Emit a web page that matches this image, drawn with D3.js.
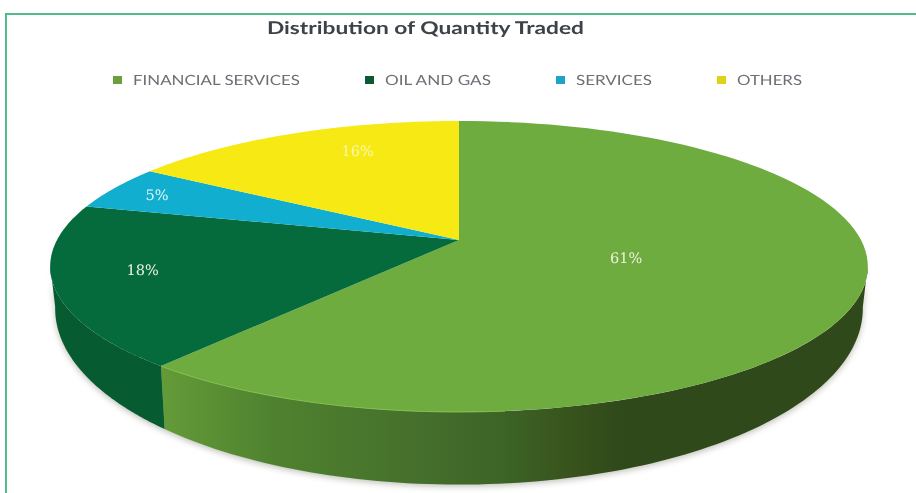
<!DOCTYPE html>
<html>
<head>
<meta charset="utf-8">
<script src="https://cdn.jsdelivr.net/npm/d3@7"></script>
<style>
    html, body { margin: 0; padding: 0; background: #fff; overflow: hidden; }
    text { text-rendering: geometricPrecision; }
</style>
</head>
<body>
<div id="chart"></div>
<script>
const sectors = ["FINANCIAL SERVICES", "OIL AND GAS", "SERVICES", "OTHERS"];
const shares = [61, 18, 5, 16];
const topColors = ["#6fac40", "#056a3c", "#12aed0", "#f6e914"];
const swatchColors = ["#6a9f3c", "#0b5a36", "#1fa3c6", "#dfd21a"];
const labelColors = ["#eef3dc", "#eef3e6", "#e6f5f5", "#fbf7b0"];
const legendX = [113, 365, 556, 717];
const legendTextWidth = [167, 106, 76, 65];
const labelRadius = [0.4, 0.8, 0.87, 0.8];
const labelNudge = [[12, -2], [4, -6], [0, 1], [36, -2]];

const width = 916, height = 493;

const svg = d3.select("#chart").append("svg")
    .attr("width", width)
    .attr("height", height);

const defs = svg.append("defs");

// financial side gets darker to the right
const sideGrad = defs.append("linearGradient")
    .attr("id", "sideGrad")
    .attr("gradientUnits", "userSpaceOnUse")
    .attr("x1", 157).attr("x2", 620).attr("y1", 0).attr("y2", 0);
[[0, "#659c39"], [0.25, "#4f822f"], [0.55, "#46702c"], [0.75, "#3c6427"], [0.9, "#38521c"], [1, "#30491a"]].forEach(s => {
    sideGrad.append("stop").attr("offset", s[0]).attr("stop-color", s[1]);
});

defs.append("filter").attr("id", "soft").append("feGaussianBlur").attr("stdDeviation", 3);
defs.append("filter").attr("id", "textSoft").append("feGaussianBlur").attr("stdDeviation", 0.6);

// frame, only top and left are visible
svg.append("path")
    .attr("d", "M6,493V14H916")
    .attr("fill", "none")
    .attr("stroke", "#4dbd8c")
    .attr("stroke-width", 2);

// perspective of the disc: centre of the pie sits above the centre of the ellipse
function project(angle, r) {
    let u = Math.sin(angle) * r;
    let v = -Math.cos(angle) * r;
    let w = 1 - 0.182 * v;
    return [459 + 402 * u / w, (240 + 97 * v) / w];
}
// lower rim is a wider, lower copy of the top rim
function projectBottom(angle) {
    let p = project(angle, 1);
    return [459 + (p[0] - 459) * 404 / 409, 308 + (p[1] - 266) * 176 / 145.5];
}

const line = d3.line();
const pie = d3.pie().sort(null);
const slices = pie(shares);

function rimAngles(a0, a1) {
    return d3.range(0, 101).map(i => a0 + (a1 - a0) * i / 100);
}

function sidePath(a0, a1) {
    let angles = rimAngles(a0, a1);
    let pts = angles.map(a => project(a, 1)).concat(angles.slice().reverse().map(projectBottom));
    return line(pts) + "Z";
}

function topPath(d) {
    let pts = rimAngles(d.startAngle, d.endAngle).map(a => project(a, 1));
    return line([project(0, 0)].concat(pts)) + "Z";
}

const deg = Math.PI / 180;
const splitAngle = slices[0].endAngle;

// shadow under the pie
svg.append("path")
    .attr("d", sidePath(100 * deg, 260 * deg))
    .attr("transform", "translate(0,2)")
    .attr("fill", "#8a8a80")
    .attr("opacity", 0.55)
    .attr("filter", "url(#soft)");

// sides
svg.append("path")
    .attr("d", sidePath(100 * deg, splitAngle))
    .attr("fill", "url(#sideGrad)");
svg.append("path")
    .attr("d", sidePath(splitAngle, 260 * deg))
    .attr("fill", "#075b31");

// top faces
svg.selectAll(".slice")
    .data(slices)
    .enter()
    .append("path")
    .attr("class", "slice")
    .attr("d", topPath)
    .attr("fill", (d, i) => topColors[i]);

// slim highlight along the front rim
svg.append("path")
    .attr("d", line(rimAngles(splitAngle - 45 * deg, splitAngle).map(a => project(a, 1))))
    .attr("fill", "none")
    .attr("stroke", "#82bd4e")
    .attr("stroke-width", 1);

// percent labels
svg.selectAll(".pct")
    .data(slices)
    .enter()
    .append("text")
    .attr("class", "pct")
    .attr("x", (d, i) => project((d.startAngle + d.endAngle) / 2, labelRadius[i])[0] + labelNudge[i][0])
    .attr("y", (d, i) => project((d.startAngle + d.endAngle) / 2, labelRadius[i])[1] + labelNudge[i][1])
    .attr("dy", "0.35em")
    .attr("text-anchor", "middle")
    .attr("font-family", "DejaVu Serif")
    .attr("font-size", 14.5)
    .attr("fill", (d, i) => labelColors[i])
    .attr("filter", "url(#textSoft)")
    .text(d => d.data + "%");

// title
svg.append("text")
    .attr("x", 267)
    .attr("y", 34)
    .attr("textLength", 317)
    .attr("lengthAdjust", "spacingAndGlyphs")
    .attr("font-family", "Lato")
    .attr("font-weight", 700)
    .attr("font-size", 17.5)
    .attr("fill", "#3c4248")
    .attr("filter", "url(#textSoft)")
    .text("Distribution of Quantity Traded");

// legend
const legend = svg.selectAll(".legend-item")
    .data(sectors)
    .enter()
    .append("g")
    .attr("class", "legend-item");

legend.append("rect")
    .attr("x", (d, i) => legendX[i])
    .attr("y", 76)
    .attr("width", 9)
    .attr("height", 8)
    .attr("fill", (d, i) => swatchColors[i]);

legend.append("text")
    .attr("x", (d, i) => legendX[i] + 20)
    .attr("y", 85)
    .attr("textLength", (d, i) => legendTextWidth[i])
    .attr("lengthAdjust", "spacingAndGlyphs")
    .attr("font-family", "Lato")
    .attr("font-size", 14)
    .attr("fill", "#6a6f74")
    .attr("filter", "url(#textSoft)")
    .text(d => d);
</script>
</body>
</html>
